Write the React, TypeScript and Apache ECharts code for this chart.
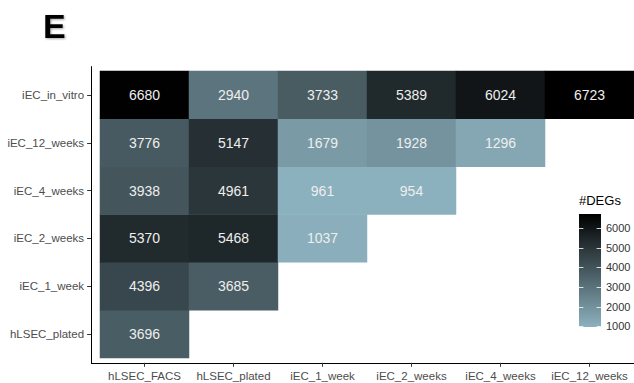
import React, { useEffect, useRef } from "react";
import * as echarts from "echarts";

const xCats = ["hLSEC_FACS", "hLSEC_plated", "iEC_1_week", "iEC_2_weeks", "iEC_4_weeks", "iEC_12_weeks"];
// bottom to top
const yCats = ["hLSEC_plated", "iEC_1_week", "iEC_2_weeks", "iEC_4_weeks", "iEC_12_weeks", "iEC_in_vitro"];

const rowInVitro = [6680, 2940, 3733, 5389, 6024, 6723];
const row12Weeks = [3776, 5147, 1679, 1928, 1296];
const row4Weeks = [3938, 4961, 961, 954];
const row2Weeks = [5370, 5468, 1037];
const row1Week = [4396, 3685];
const rowPlated = [3696];

const legendTicks = [1000, 2000, 3000, 4000, 5000, 6000];

const LOW = "#8cb1be";
const HIGH = "#000000";
const FONT = "'Liberation Sans', Arial, Helvetica, sans-serif";

export default function App() {
  const ref = useRef<HTMLDivElement>(null);
  useEffect(() => {
    if (!ref.current) return;
    const chart = echarts.init(ref.current, null, { renderer: "svg" });
    const rows = [rowPlated, row1Week, row2Weeks, row4Weeks, row12Weeks, rowInVitro];
    const data: number[][] = [];
    rows.forEach((r, yi) => r.forEach((v, xi) => data.push([xi, yi, v])));
    const all = data.map((d) => d[2]);
    const vmin = Math.min(...all);
    const vmax = Math.max(...all);

    // layout
    const gl = 100, gt = 71, gw = 534, gh = 287;
    const padX = (gw / xCats.length) * 0.1;
    const padY = (gh / yCats.length) * 0.1;
    const axX = gl - padX; // y-axis line x
    const axY = gt + gh + padY; // x-axis line y

    // legend bar
    const bx = 579, bTop = 214, bH = 113, bW = 22;
    const valToY = (v: number) => bTop + bH - ((v - vmin) / (vmax - vmin)) * bH;

    const graphics: any[] = [
      {
        type: "text",
        left: 43,
        top: 9,
        style: {
          text: "E",
          font: `bold 34px ${FONT}`,
          fill: "#000",
          textShadowColor: "rgba(0,0,0,0.35)",
          textShadowBlur: 2,
          textShadowOffsetX: 1,
          textShadowOffsetY: 1,
        },
      },
      {
        type: "line",
        shape: { x1: Math.round(axX) + 0.5, y1: gt - padY, x2: Math.round(axX) + 0.5, y2: Math.round(axY) + 1 },
        style: { stroke: "#000", lineWidth: 1 },
      },
      {
        type: "line",
        shape: { x1: Math.round(axX), y1: Math.round(axY) + 0.5, x2: gl + gw + padX, y2: Math.round(axY) + 0.5 },
        style: { stroke: "#000", lineWidth: 1 },
      },
      {
        type: "text",
        x: bx,
        y: 200,
        style: { text: "#DEGs", font: `13px ${FONT}`, fill: "#000", textVerticalAlign: "middle" },
      },
      {
        type: "rect",
        shape: { x: bx, y: bTop, width: bW, height: bH },
        style: {
          fill: new echarts.graphic.LinearGradient(0, 0, 0, 1, [
            { offset: 0, color: HIGH },
            { offset: 1, color: LOW },
          ]),
        },
      },
    ];
    legendTicks.forEach((t) => {
      const y = Math.round(valToY(t)) + 0.5;
      graphics.push({
        type: "line",
        shape: { x1: bx, y1: y, x2: bx + bW / 5, y2: y },
        style: { stroke: "rgba(255,255,255,0.8)", lineWidth: 1 },
      });
      graphics.push({
        type: "line",
        shape: { x1: bx + bW - bW / 5, y1: y, x2: bx + bW, y2: y },
        style: { stroke: "rgba(255,255,255,0.8)", lineWidth: 1 },
      });
      graphics.push({
        type: "text",
        x: bx + bW + 5,
        y: valToY(t),
        style: { text: String(t), font: `11px ${FONT}`, fill: "#333", textVerticalAlign: "middle" },
      });
    });

    chart.setOption({
      animation: false,
      grid: { left: gl, top: gt, width: gw, height: gh, containLabel: false },
      xAxis: {
        type: "category",
        data: xCats,
        position: "bottom",
        offset: padY,
        axisLine: { show: false },
        axisTick: { show: true, alignWithLabel: true, length: 4, lineStyle: { color: "#333" } },
        axisLabel: { color: "#4d4d4d", fontSize: 11.5, fontFamily: FONT, margin: 7, interval: 0 },
        splitLine: { show: false },
      },
      yAxis: {
        type: "category",
        data: yCats,
        offset: padX,
        axisLine: { show: false },
        axisTick: { show: true, alignWithLabel: true, length: 4, lineStyle: { color: "#333" } },
        axisLabel: { color: "#4d4d4d", fontSize: 11.5, fontFamily: FONT, margin: 7, interval: 0 },
        splitLine: { show: false },
      },
      visualMap: {
        show: false,
        type: "continuous",
        min: vmin,
        max: vmax,
        dimension: 2,
        inRange: { color: [LOW, HIGH] },
      },
      series: [
        {
          type: "heatmap",
          data,
          label: {
            show: true,
            color: "#eeeeee",
            fontSize: 14,
            fontFamily: FONT,
            formatter: (p: any) => String(p.value[2]),
          },
          emphasis: { disabled: true },
        },
      ],
      graphic: graphics,
    });
    return () => chart.dispose();
  }, []);
  return (
    <div
      ref={ref}
      style={{ position: "fixed", left: 0, top: 0, width: 634, height: 383, background: "#fff" }}
    />
  );
}
